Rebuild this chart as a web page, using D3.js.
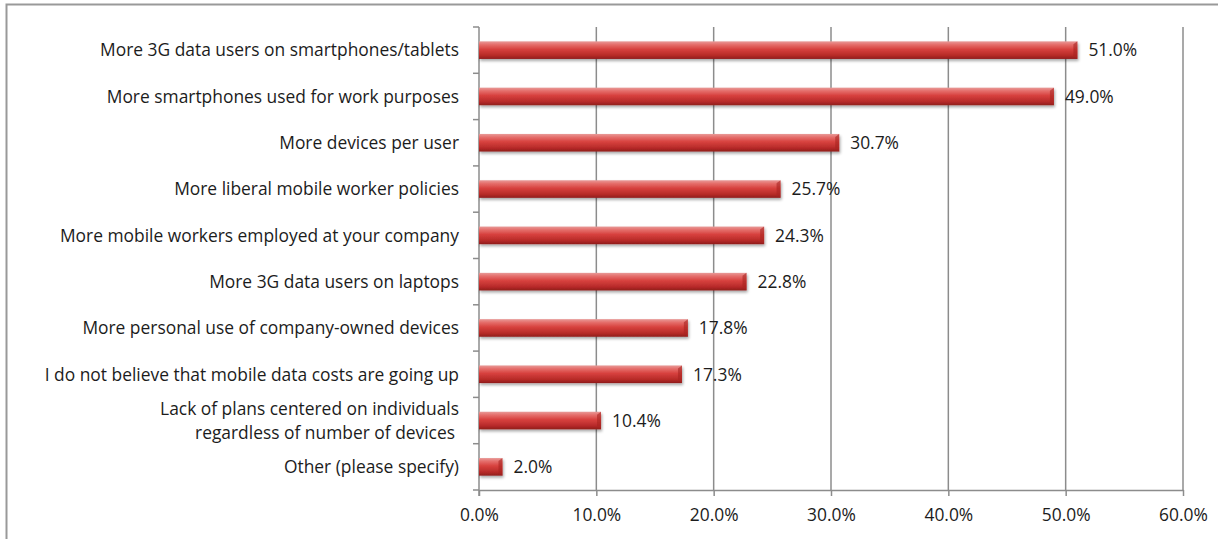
<!DOCTYPE html>
<html>
<head>
<meta charset="utf-8">
<script src="https://cdn.jsdelivr.net/npm/d3@7"></script>
<style>
  html, body { margin: 0; padding: 0; background: #fff; }
  svg { display: block; }
  text { font-family: "Open Sans", Lato, sans-serif; fill: #1c1c1c; }
</style>
</head>
<body>
<div id="chart"></div>
<script>
const categories = [
  "More 3G data users on smartphones/tablets",
  "More smartphones used for work purposes",
  "More devices per user",
  "More liberal mobile worker policies",
  "More mobile workers employed at your company",
  "More 3G data users on laptops",
  "More personal use of company-owned devices",
  "I do not believe that mobile data costs are going up",
  "Lack of plans centered on individuals\nregardless of number of devices",
  "Other (please specify)"
];
const values = [51.0, 49.0, 30.7, 25.7, 24.3, 22.8, 17.8, 17.3, 10.4, 2.0];
const xTicks = [0, 10, 20, 30, 40, 50, 60];

const W = 1218, H = 539;
const margin = { left: 479, right: 35, top: 27, bottom: 49 };
const fontSize = "17.4px";

const svg = d3.select("#chart").append("svg").attr("width", W).attr("height", H);

// outer frame (top and left edges)
svg.append("path")
  .attr("d", `M6.5,${H} V4.5 H${W}`)
  .attr("fill", "none").attr("stroke", "#999").attr("stroke-width", 2);

const x = d3.scaleLinear().domain([0, 60]).range([margin.left, W - margin.right]);
const y = d3.scaleBand().domain(categories).range([margin.top, H - margin.bottom]).paddingInner(0.62).paddingOuter(0.31);
const yBand = d3.scaleBand().domain(categories).range([margin.top, H - margin.bottom]);

const defs = svg.append("defs");
const grad = defs.append("linearGradient").attr("id", "barGrad")
  .attr("x1", 0).attr("y1", 0).attr("x2", 0).attr("y2", 1);
[[0, "#e89a98"], [0.18, "#e56f6c"], [0.45, "#d7413e"], [0.8, "#b62a28"], [1, "#8f1d1b"]]
  .forEach(([o, c]) => grad.append("stop").attr("offset", o).attr("stop-color", c));
const shadow = defs.append("filter").attr("id", "shadow").attr("x", "-10%").attr("y", "-30%").attr("width", "130%").attr("height", "180%");
shadow.append("feGaussianBlur").attr("in", "SourceAlpha").attr("stdDeviation", 1.6);
shadow.append("feOffset").attr("dx", 1).attr("dy", 2).attr("result", "b");
shadow.append("feComponentTransfer").append("feFuncA").attr("type", "linear").attr("slope", 0.35);
const merge = shadow.append("feMerge");
merge.append("feMergeNode");
merge.append("feMergeNode").attr("in", "SourceGraphic");

// vertical gridlines
const plotBottom = H - margin.bottom;
svg.append("g").selectAll("line").data(xTicks.slice(1)).join("line")
  .attr("x1", d => x(d)).attr("x2", d => x(d))
  .attr("y1", margin.top).attr("y2", plotBottom)
  .attr("stroke", "#8c8c8c").attr("stroke-width", 1.5);

// x axis
const xAxis = svg.append("g").attr("transform", `translate(0,${plotBottom})`)
  .call(d3.axisBottom(x).tickValues(xTicks).tickSize(6).tickSizeOuter(0).tickFormat(d => d.toFixed(1) + "%"));
xAxis.select(".domain").attr("stroke", "#8c8c8c").attr("stroke-width", 1.5);
xAxis.selectAll(".tick line").attr("stroke", "#8c8c8c").attr("stroke-width", 1.5);
xAxis.selectAll(".tick text").attr("y", 19).attr("dy", "0.71em").style("font-size", fontSize)
  .style("font-family", "'Open Sans', sans-serif").attr("fill", "#1c1c1c");

// y axis line with ticks at category boundaries
svg.append("line").attr("x1", x(0)).attr("x2", x(0)).attr("y1", margin.top).attr("y2", plotBottom + 6)
  .attr("stroke", "#8c8c8c").attr("stroke-width", 1.5);
const bounds = categories.map(c => yBand(c)).concat([plotBottom]);
svg.append("g").selectAll("line").data(bounds).join("line")
  .attr("x1", x(0) - 6).attr("x2", x(0))
  .attr("y1", d => d).attr("y2", d => d)
  .attr("stroke", "#8c8c8c").attr("stroke-width", 1.5);

// bars
const bars = svg.append("g");
categories.forEach((c, i) => {
  const g = bars.append("g").attr("filter", "url(#shadow)");
  const x0 = x(0), x1 = x(values[i]), y0 = y(c), h = y.bandwidth();
  g.append("rect").attr("x", x0).attr("y", y0).attr("width", x1 - x0).attr("height", h)
    .attr("fill", "url(#barGrad)");
  // bevelled end cap
  g.append("path")
    .attr("d", `M${x1 - 4},${y0 + 3} L${x1},${y0} L${x1},${y0 + h} L${x1 - 4},${y0 + h - 3} Z`)
    .attr("fill", "#a82522").attr("opacity", 0.6);
});

// value labels
svg.append("g").selectAll("text").data(categories).join("text")
  .attr("x", (c, i) => x(values[i]) + 11)
  .attr("y", c => y(c) + y.bandwidth() / 2)
  .attr("dy", "0.36em")
  .style("font-size", fontSize)
  .text((c, i) => values[i].toFixed(1) + "%");

// category labels (multi-line labels as tspans within one text)
const lab = svg.append("g");
categories.forEach(c => {
  const lines = c.split("\n");
  const cy = y(c) + y.bandwidth() / 2;
  const lh = 24;
  const t = lab.append("text")
    .attr("text-anchor", "end")
    .style("font-size", fontSize);
  lines.forEach((s, k) => {
    t.append("tspan")
      .attr("x", x(0) - 20 + (k === lines.length - 1 && lines.length > 1 ? -4 : 0))
      .attr("y", cy + (k - (lines.length - 1) / 2) * lh)
      .attr("dy", "0.36em")
      .text(s);
  });
});
</script>
</body>
</html>
